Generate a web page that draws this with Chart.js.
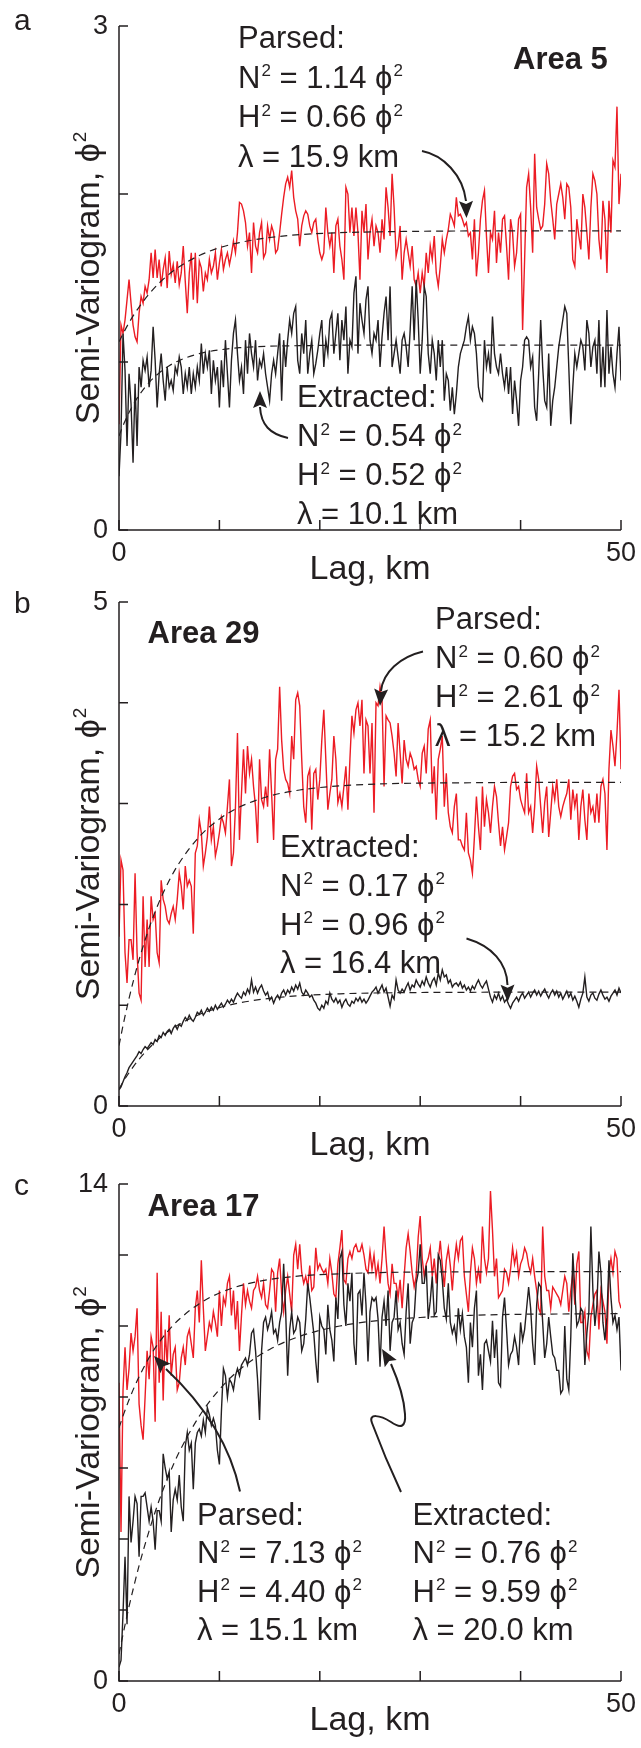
<!DOCTYPE html>
<html><head><meta charset="utf-8">
<script src="https://cdn.jsdelivr.net/npm/chart.js@4.4.1/dist/chart.umd.min.js"></script>
<style>
html,body{margin:0;padding:0;background:#fff;}
#wrap{position:relative;width:641px;height:1748px;overflow:hidden;background:#fff;}
canvas{position:absolute;left:0;}
</style></head><body>
<div id="wrap">
<canvas id="ca" width="641" height="600" style="top:0;width:641px;height:600px"></canvas>
<canvas id="cb" width="641" height="600" style="top:575px;width:641px;height:600px"></canvas>
<canvas id="cc" width="641" height="598" style="top:1150px;width:641px;height:598px"></canvas>
</div>
<script>
// ---- data (lag spacing 0.2 km, 0 … 50 km) ----
const LAG_STEP = 0.2;
const xTicks = [0,10,20,30,40,50];
const yTicksA = [0,1,2,3];
const yTicksB = [0,1,2,3,4,5];
const yTicksC = [0,2,4,6,8,10,12,14];

const parsedA = [
0.63,1.22,1.17,1.25,1.37,1.49,1.35,1.22,1.15,1.12,
1.29,1.39,1.35,1.45,1.41,1.49,1.65,1.50,1.67,1.50,
1.61,1.45,1.55,1.62,1.44,1.66,1.52,1.58,1.47,1.60,
1.46,1.53,1.69,1.48,1.29,1.53,1.65,1.37,1.65,1.35,
1.60,1.56,1.42,1.53,1.49,1.61,1.53,1.57,1.65,1.49,
1.59,1.67,1.55,1.61,1.65,1.58,1.64,1.72,1.65,1.77,
1.95,1.94,1.90,1.83,1.69,1.77,1.53,1.83,1.69,1.65,
1.77,1.83,1.62,1.65,1.81,1.73,1.81,1.77,1.65,1.67,
1.77,1.88,1.98,
2.06,2.10,2.04,2.14,1.98,1.90,1.85,1.69,1.81,1.87,
1.90,1.88,1.81,1.77,1.83,1.85,1.73,1.65,1.61,1.65,
1.92,1.77,1.69,1.77,1.53,1.81,1.85,1.69,1.61,1.49,
2.04,2.00,1.77,1.92,1.75,1.92,1.77,1.49,1.90,1.77,
1.94,1.61,1.77,1.85,1.69,1.81,1.77,1.65,1.85,1.73,
2.04,1.92,1.75,2.12,1.92,1.63,1.69,1.81,1.49,1.65,
1.73,1.65,1.57,1.69,1.49,1.45,1.53,1.41,1.53,1.45,
1.65,1.53,1.69,1.61,1.75,1.53,1.45,1.57,1.73,1.65,
1.73,1.79,1.88,1.85,1.81,
1.98,1.87,1.88,1.85,1.81,1.83,1.75,1.77,1.61,1.85,
1.51,1.65,1.85,1.96,2.02,1.75,1.53,1.77,1.73,1.90,
1.59,1.77,1.65,1.85,1.87,1.69,1.49,1.85,1.77,1.57,
1.65,1.85,1.88,1.19,1.61,2.04,2.12,1.92,1.65,2.24,
1.92,1.85,1.79,1.81,1.94,2.18,2.12,1.96,1.85,1.73,
1.94,2.00,2.06,1.98,1.85,2.06,2.04,1.92,1.61,1.57,
1.85,1.75,1.67,2.00,1.92,1.77,1.61,1.92,2.12,2.08,
2.00,1.73,1.61,1.96,1.85,1.53,1.96,1.77,2.20,2.16,
2.52,1.94,2.12];

const extractedA = [
0.32,0.58,1.17,0.95,0.50,0.93,0.75,0.40,0.87,0.50,
0.97,0.85,1.01,0.95,1.03,0.85,0.95,1.21,1.01,0.73,
0.93,1.05,0.89,0.77,0.97,0.85,0.89,0.83,0.97,0.93,
1.03,0.97,0.81,0.93,0.85,0.97,0.81,0.93,0.85,0.97,
0.89,1.11,0.93,1.05,0.97,1.07,0.81,1.01,0.89,0.97,
0.73,1.01,0.85,1.13,0.93,0.73,1.01,1.17,1.25,1.05,
0.89,0.97,0.81,1.13,0.93,1.17,1.05,0.97,1.13,0.89,
1.01,0.97,1.05,0.93,0.85,0.77,0.93,1.01,0.93,1.05,
1.17,0.77,1.13,
0.97,1.13,1.25,1.17,1.29,1.33,1.01,0.93,1.17,1.05,
1.25,0.93,1.05,1.13,0.93,0.99,1.07,1.17,1.25,0.97,
1.13,1.05,1.25,1.29,1.05,1.17,1.29,1.01,1.25,1.13,
1.33,0.93,1.13,1.09,1.41,1.51,1.05,1.35,1.25,1.17,
1.37,1.45,1.13,1.05,1.17,1.13,1.25,0.97,1.15,1.29,
1.39,1.13,1.45,0.97,1.05,1.13,1.03,0.93,1.13,1.17,
1.09,0.97,1.19,1.45,1.13,1.49,1.25,0.93,1.13,1.45,
1.39,1.05,0.93,1.13,1.05,0.89,1.13,0.97,1.13,0.77,
0.93,0.89,0.71,0.85,0.69,
0.81,0.97,1.05,1.09,1.13,1.21,1.27,1.13,1.21,1.17,
1.05,0.85,0.79,0.77,1.13,0.97,1.05,0.93,1.27,1.05,
0.97,0.93,1.05,0.93,0.85,0.97,0.81,0.97,0.69,0.89,
0.77,0.62,0.89,0.97,1.13,1.15,1.13,0.97,1.03,0.73,
0.65,0.93,1.25,0.97,0.77,0.73,1.05,0.62,0.77,0.85,
0.97,1.09,1.17,1.25,1.33,1.29,0.97,0.63,0.85,1.05,
0.97,1.05,1.13,1.09,0.95,1.25,1.17,0.97,1.09,1.13,
0.93,1.25,0.85,1.09,0.85,1.31,0.93,1.09,0.93,0.85,
1.05,1.21,0.89];

const parsedB = [
1.68,2.44,2.34,1.52,1.22,1.65,1.65,1.45,2.31,1.52,
1.12,1.05,2.08,1.38,1.85,1.38,2.08,1.85,1.91,1.52,
1.42,2.24,2.05,1.98,1.85,1.81,1.91,1.98,1.85,2.05,
2.31,2.18,1.95,2.38,2.18,2.24,2.18,1.71,2.51,2.58,
2.84,2.71,2.38,2.51,2.67,2.97,2.64,2.77,2.48,2.58,
2.71,2.87,2.81,2.71,2.97,3.24,2.38,2.51,2.97,3.70,
2.64,3.10,3.54,3.10,3.57,3.30,3.44,3.17,2.97,2.61,
3.44,3.04,2.97,3.17,2.97,3.54,3.10,2.64,3.44,3.54,
4.16,3.63,3.34,
3.24,3.20,3.10,3.67,3.44,4.03,4.10,3.97,3.44,2.97,
2.81,3.27,3.34,2.74,3.30,3.34,3.04,3.24,3.63,3.93,
3.44,2.94,3.10,3.24,3.67,3.44,3.01,3.10,2.97,3.17,
3.37,2.94,3.44,3.87,3.70,3.93,4.00,3.77,4.03,3.30,
3.83,3.77,3.30,3.80,2.91,4.00,3.97,4.16,4.03,3.17,
3.87,3.83,3.80,3.67,3.50,3.27,3.80,3.50,3.20,3.63,
3.44,3.37,3.50,3.44,3.34,3.37,3.24,3.17,3.50,3.57,
3.30,3.74,3.83,3.10,3.37,2.84,3.44,3.54,3.67,2.97,
3.30,2.91,2.77,2.71,2.97,
3.10,2.64,2.64,2.58,2.54,2.91,2.51,2.44,2.31,2.67,
3.07,2.77,2.54,3.17,2.77,3.04,2.91,2.71,2.97,3.17,
3.07,2.81,2.58,2.77,2.54,2.67,2.81,3.17,3.27,3.30,
3.14,3.17,3.04,2.97,2.91,3.30,2.91,2.97,2.71,2.97,
3.37,3.24,2.97,2.71,3.01,3.17,2.67,2.91,3.17,3.04,
3.24,2.97,2.87,2.97,3.04,3.10,3.24,2.84,3.14,2.97,
3.10,2.64,2.97,3.14,2.84,2.64,3.10,2.91,2.97,2.81,
3.10,2.81,3.17,3.24,3.10,2.54,3.34,3.73,3.57,3.37,
3.70,4.13,3.34];

const extractedB = [
0.16,0.19,0.24,0.29,0.33,0.38,0.41,0.44,0.47,0.50,
0.54,0.52,0.56,0.59,0.57,0.60,0.63,0.61,0.66,0.64,
0.70,0.68,0.73,0.70,0.74,0.76,0.72,0.77,0.80,0.76,
0.81,0.79,0.84,0.88,0.85,0.90,0.86,0.84,0.88,0.93,
0.91,0.95,0.90,0.93,0.97,0.94,0.98,0.95,1.00,0.96,
0.99,1.02,0.98,1.01,1.05,1.02,1.06,1.03,1.08,1.12,
1.09,1.07,1.13,1.10,1.16,1.12,1.25,1.13,1.18,1.12,
1.17,1.20,1.14,1.10,1.13,1.05,1.08,1.02,1.07,1.10,
1.06,1.12,1.15,
1.10,1.15,1.12,1.18,1.14,1.20,1.16,1.22,1.13,1.10,
1.15,1.12,1.08,1.10,1.05,1.02,0.97,0.95,1.00,0.97,
1.04,1.01,1.12,1.06,1.03,1.07,1.02,1.05,0.98,1.03,
1.06,1.01,0.99,1.04,1.02,1.07,1.04,1.08,1.03,1.06,
1.02,1.05,1.09,1.13,1.15,1.18,1.12,1.16,1.20,1.13,
1.17,1.08,0.99,1.10,1.06,1.25,1.15,1.12,1.16,1.13,
1.18,1.22,1.15,1.20,1.18,1.25,1.21,1.18,1.24,1.20,
1.28,1.22,1.18,1.24,1.27,1.20,1.32,1.25,1.35,1.28,
1.30,1.22,1.25,1.18,1.21,
1.22,1.19,1.23,1.17,1.20,1.15,1.18,1.14,1.19,1.16,
1.21,1.25,1.20,1.17,1.21,1.24,1.16,1.08,1.03,1.10,
1.06,1.12,1.05,1.09,1.03,1.06,1.01,0.97,1.02,1.05,
1.08,1.04,1.09,1.12,1.07,1.10,1.13,1.08,1.12,1.15,
1.10,1.14,1.09,1.13,1.16,1.11,1.07,1.12,1.15,1.10,
1.14,1.08,1.12,1.06,1.10,1.14,1.08,1.12,1.05,1.09,
1.04,0.98,1.06,1.12,1.28,1.08,1.04,1.10,1.12,1.07,
1.05,1.11,1.15,1.10,1.06,1.08,1.04,1.09,1.12,1.15,
1.10,1.17,1.12];

const parsedC = [
8.4,4.2,8.2,9.4,8.2,8.8,9.8,9.3,9.7,10.5,
7.8,7.2,6.8,8.0,9.3,8.5,9.7,9.4,7.3,11.5,
8.4,10.4,7.9,9.9,8.9,10.3,8.6,9.2,9.4,8.2,
8.4,9.1,9.4,8.9,9.7,9.9,9.5,9.1,10.5,11.0,
10.1,11.85,10.5,9.3,9.7,10.1,9.9,10.4,10.1,9.7,
11.0,10.0,10.8,10.6,11.2,11.4,10.3,11.0,9.9,10.7,
9.3,10.3,11.2,10.6,11.0,10.7,10.5,11.0,11.1,11.4,
11.0,10.8,11.2,10.6,10.5,11.0,11.6,11.5,10.4,11.5,
11.9,10.9,10.4,
11.0,11.4,10.9,10.4,12.0,12.3,11.6,12.3,11.5,11.2,
11.4,11.1,11.7,11.0,11.1,12.2,11.6,11.75,11.6,11.5,
11.6,11.2,11.9,11.5,10.9,10.8,11.75,12.2,12.7,11.3,
11.2,11.9,12.1,11.9,12.2,12.3,12.1,12.1,12.3,12.0,
11.6,11.5,12.1,11.6,12.0,11.4,11.75,11.2,11.9,12.8,
11.9,11.2,10.9,11.75,11.2,11.2,10.8,11.3,10.5,11.4,
12.2,12.6,12.1,11.5,11.1,11.4,12.5,13.1,11.9,11.4,
11.75,11.9,12.2,11.4,11.9,11.2,11.85,12.4,11.7,11.1,
11.85,12.2,11.7,11.0,11.8,
12.3,11.9,12.4,12.5,11.4,10.9,10.4,11.5,12.2,11.9,
11.2,11.6,11.2,12.8,11.9,11.5,11.9,13.8,12.7,11.4,
11.9,10.8,10.9,11.0,11.6,11.5,11.2,11.6,12.2,11.75,
12.05,11.4,11.75,11.9,12.2,12.05,11.7,11.5,11.9,11.4,
11.0,10.5,10.35,12.8,11.4,11.0,11.0,10.5,11.1,11.0,
10.9,10.8,10.6,11.0,11.4,11.2,10.4,11.0,11.5,10.6,
11.75,12.1,10.1,10.1,10.4,9.3,9.1,10.25,10.6,10.9,
11.0,9.9,11.0,10.7,10.4,9.5,11.5,11.9,11.5,12.1,
11.9,10.7,10.5];

const extractedC = [
0.39,0.58,1.9,3.5,1.6,5.2,3.9,4.5,5.2,5.0,
3.5,5.2,5.2,5.3,4.9,4.5,4.9,4.5,3.7,4.8,
4.8,4.5,6.4,6.0,5.7,5.9,4.2,5.1,5.4,5.1,
5.8,4.9,4.5,6.6,7.0,6.5,6.7,5.4,6.7,7.0,
7.1,6.9,7.35,7.0,7.7,7.5,7.2,7.4,7.2,6.5,
6.1,7.6,8.8,8.6,8.0,8.5,8.4,8.2,8.6,8.8,
8.6,8.9,9.0,9.1,8.9,9.2,9.8,9.9,9.3,8.5,
7.35,9.3,10.1,10.25,9.9,10.1,10.4,9.8,9.9,9.6,
10.1,10.4,11.75,
10.4,8.6,9.9,10.4,9.8,9.9,10.25,10.1,9.3,9.5,
10.2,11.2,10.8,10.3,9.8,9.0,8.4,10.25,10.0,9.9,
9.2,10.6,9.9,9.6,9.0,10.8,10.2,11.9,12.1,10.6,
10.0,11.2,10.7,11.5,9.5,8.9,10.9,11.0,10.3,11.5,
10.6,9.0,10.4,10.8,10.7,10.8,10.2,8.85,10.25,10.7,
10.0,11.0,9.3,10.1,10.25,11.0,9.9,10.1,9.5,9.2,
10.4,11.2,9.5,10.1,10.25,11.2,11.5,12.3,11.2,11.2,
11.7,10.2,10.7,11.4,10.3,10.4,12.0,11.85,11.3,10.5,
10.2,11.2,10.1,9.8,10.0,
9.6,10.5,9.9,10.35,9.7,9.4,8.4,10.1,9.4,10.5,
11.0,8.6,9.2,8.2,9.5,9.6,9.3,9.0,10.15,9.1,
9.9,8.4,8.3,10.25,10.8,9.9,8.9,9.2,9.3,9.7,
9.4,8.9,10.1,9.6,9.9,10.5,11.1,10.5,9.5,8.9,
10.6,11.2,11.1,10.1,9.1,9.5,10.25,9.7,9.2,9.1,
8.75,8.75,8.1,8.2,10.0,8.5,8.2,9.7,12.05,11.0,
10.0,10.15,10.5,10.4,8.9,9.8,10.4,12.8,11.0,10.0,
10.6,12.1,11.5,10.1,9.6,10.25,11.85,10.8,10.1,10.3,
9.9,10.25,8.75];

// fitted model curves (dashed), read at these lags
const fitLag = [0,0.5,1,1.5,2,3,4,5,6,8,10,12,15,18,22,26,30,35,40,45,50];
const fitParsedA    = [1.12,1.179,1.234,1.283,1.327,1.405,1.470,1.523,1.567,1.634,1.680,1.711,1.741,1.758,1.770,1.775,1.778,1.78,1.78,1.78,1.78];
const fitExtractedA = [0.56,0.635,0.699,0.754,0.802,0.879,0.935,0.978,1.009,1.050,1.072,1.085,1.094,1.097,1.10,1.10,1.10,1.10,1.10,1.10,1.10];
const fitParsedB    = [0.60,0.845,1.067,1.268,1.451,1.767,2.025,2.237,2.411,2.672,2.847,2.966,3.075,3.135,3.176,3.195,3.203,3.207,3.21,3.21,3.21];
const fitExtractedB = [0.17,0.254,0.330,0.400,0.464,0.575,0.668,0.745,0.810,0.908,0.976,1.023,1.068,1.094,1.113,1.122,1.126,1.128,1.13,1.13,1.13];
const fitParsedC    = [7.13,7.546,7.92,8.264,8.57,9.11,9.54,9.90,10.19,10.63,10.93,11.13,11.31,11.41,11.47,11.505,11.52,11.525,11.53,11.53,11.53];
const fitExtractedC = [0.76,1.45,2.10,2.69,3.25,4.23,5.09,5.82,6.45,7.46,8.21,8.77,9.34,9.71,10.00,10.16,10.24,10.30,10.33,10.34,10.35];

// ---- drawing ----
const RED = '#ec1c24';
const INK = '#231f20';
const FONT = '"Liberation Sans", Arial, Helvetica, sans-serif';
const ANN = 31;
const SUP2 = {s:'2'};

function series(vals){ return vals.map((v,i)=>({x: +(i*LAG_STEP).toFixed(2), y: v})); }
function pairs(xs, ys){ return xs.map((x,i)=>({x:x, y:ys[i]})); }

function drawRich(c, parts, x, y, size, weight){
  let cx = x;
  const w = weight || 'normal';
  for (const p of parts){
    if (typeof p === 'string'){
      c.font = `${w} ${size}px ${FONT}`;
      c.fillText(p, cx, y);
      cx += c.measureText(p).width;
    } else {
      const ss = Math.round(size*0.56);
      c.font = `${w} ${ss}px ${FONT}`;
      c.fillText(p.s, cx + 1, y - size*0.37);
      cx += c.measureText(p.s).width + 1;
    }
  }
  return cx - x;
}
function richWidth(c, parts, size){
  let w = 0;
  for (const p of parts){
    if (typeof p === 'string'){ c.font = `${size}px ${FONT}`; w += c.measureText(p).width; }
    else { c.font = `${Math.round(size*0.56)}px ${FONT}`; w += c.measureText(p.s).width + 1; }
  }
  return w;
}
function head(c, tx, ty, fx, fy){
  const len = 17, hw = 7;
  const dx = tx-fx, dy = ty-fy, L = Math.hypot(dx,dy), ux = dx/L, uy = dy/L;
  const bx = tx-ux*len, by = ty-uy*len;
  c.beginPath();
  c.moveTo(tx,ty);
  c.lineTo(bx - uy*hw, by + ux*hw);
  c.lineTo(bx + ux*3, by + uy*3);
  c.lineTo(bx + uy*hw, by - ux*hw);
  c.closePath(); c.fill();
}
function drawPath(c, cmds, off){
  c.beginPath();
  for (const k of cmds){
    const t = k[0], a = k.slice(1).map((v,i)=> i%2 ? v-off : v);
    if (t==='M') c.moveTo(a[0],a[1]);
    else if (t==='L') c.lineTo(a[0],a[1]);
    else if (t==='Q') c.quadraticCurveTo(a[0],a[1],a[2],a[3]);
    else if (t==='C') c.bezierCurveTo(a[0],a[1],a[2],a[3],a[4],a[5]);
  }
  c.stroke();
}

function decor(p){
  return {
    id: 'decor_' + p.letter,
    afterDraw(chart){
      const c = chart.ctx, xs = chart.scales.x, ys = chart.scales.y, off = p.top;
      c.save();
      c.strokeStyle = INK; c.fillStyle = INK; c.lineCap = 'butt';
      const x0 = xs.getPixelForValue(0), x1 = xs.getPixelForValue(50);
      const y0 = ys.getPixelForValue(0), yT = ys.getPixelForValue(p.yTicks[p.yTicks.length-1]);
      // axes
      c.lineWidth = 1.5;
      c.beginPath(); c.moveTo(x0, yT); c.lineTo(x0, y0); c.lineTo(x1, y0); c.stroke();
      c.beginPath();
      for (const v of p.yTicks){ const y = ys.getPixelForValue(v); c.moveTo(x0, y); c.lineTo(x0+9, y); }
      for (const v of xTicks){ const x = xs.getPixelForValue(v); c.moveTo(x, y0); c.lineTo(x, y0-10); }
      c.stroke();
      // tick labels (first and last only)
      c.font = `27px ${FONT}`;
      c.textAlign = 'right'; c.textBaseline = 'middle';
      const ylab = [p.yTicks[0], p.yTicks[p.yTicks.length-1]];
      for (const v of ylab) c.fillText(String(v), 108, ys.getPixelForValue(v)+1);
      c.textAlign = 'center'; c.textBaseline = 'alphabetic';
      for (const v of [xTicks[0], xTicks[xTicks.length-1]]) c.fillText(String(v), xs.getPixelForValue(v), y0+31);
      // axis titles
      c.font = `34px ${FONT}`;
      c.fillText('Lag, km', (x0+x1)/2, y0+49);
      const yt = ['Semi-Variogram, ', '\u03D5', SUP2];
      const tw = richWidth(c, yt, 34);
      c.save();
      c.translate(99, (yT+y0)/2);
      c.rotate(-Math.PI/2);
      c.textAlign = 'left';
      drawRich(c, yt, -tw/2, 0, 34);
      c.restore();
      // panel letter
      c.textAlign = 'left';
      c.font = `30px ${FONT}`;
      c.fillText(p.letter, 14, p.letterY - off);
      // area label
      c.font = `bold 31px ${FONT}`;
      c.fillText(p.area.text, p.area.x, p.area.y - off);
      // annotation blocks
      for (const b of p.blocks){
        b.lines.forEach((ln, i)=> drawRich(c, ln, b.x, b.y - off + i*b.dy, ANN));
      }
      // arrows
      c.lineWidth = 2;
      for (const a of p.arrows){
        drawPath(c, a.path, off);
        head(c, a.tip[0], a.tip[1]-off, a.from[0], a.from[1]-off);
      }
      c.restore();
    }
  };
}

function makeChart(p){
  const el = document.getElementById(p.canvas);
  const H = el.height;
  new Chart(el, {
    type: 'line',
    data: { datasets: [
      {data: pairs(fitLag, p.fitRed), order:0, borderColor:INK, borderWidth:1.2, borderDash:[7,5], pointRadius:0, cubicInterpolationMode:'monotone', fill:false},
      {data: pairs(fitLag, p.fitBlack), order:0, borderColor:INK, borderWidth:1.2, borderDash:[7,5], pointRadius:0, cubicInterpolationMode:'monotone', fill:false},
      {data: series(p.black), order:1, borderColor:INK, borderWidth:1.4, pointRadius:0, tension:0, fill:false},
      {data: series(p.red), order:2, borderColor:RED, borderWidth:1.4, pointRadius:0, tension:0, fill:false}
    ]},
    options: {
      responsive:false, animation:false, devicePixelRatio:1, events:[],
      layout: {padding: {left:119, right:20, top:p.areaTop, bottom:H - p.areaBottom}},
      scales: {
        x: {type:'linear', min:0, max:50, display:false},
        y: {type:'linear', min:0, max:p.yTicks[p.yTicks.length-1], display:false}
      },
      plugins: {legend:{display:false}, tooltip:{enabled:false}}
    },
    plugins: [decor(p)]
  });
}

const panels = [
  { canvas:'ca', top:0, areaTop:26, areaBottom:530, yTicks:yTicksA, letter:'a', letterY:30,
    red:parsedA, black:extractedA, fitRed:fitParsedA, fitBlack:fitExtractedA,
    area:{text:'Area 5', x:513, y:69},
    blocks:[
      {x:238, y:48, dy:39.5, lines:[['Parsed:'], ['N',SUP2,' = 1.14 ','\u03D5',SUP2], ['H',SUP2,' = 0.66 ','\u03D5',SUP2], ['\u03BB = 15.9 km']]},
      {x:297, y:407, dy:39, lines:[['Extracted:'], ['N',SUP2,' = 0.54 ','\u03D5',SUP2], ['H',SUP2,' = 0.52 ','\u03D5',SUP2], ['\u03BB = 10.1 km']]}
    ],
    arrows:[
      {path:[['M',422,151],['C',443,155,463,175,466,201]], tip:[466.5,218], from:[466,201]},
      {path:[['M',288,438],['C',270,434,261,425,260,407]], tip:[260,391], from:[260,407]}
    ]},
  { canvas:'cb', top:575, areaTop:27, areaBottom:531, yTicks:yTicksB, letter:'b', letterY:613,
    red:parsedB, black:extractedB, fitRed:fitParsedB, fitBlack:fitExtractedB,
    area:{text:'Area 29', x:147.5, y:643},
    blocks:[
      {x:435, y:629, dy:39, lines:[['Parsed:'], ['N',SUP2,' = 0.60 ','\u03D5',SUP2], ['H',SUP2,' = 2.61 ','\u03D5',SUP2], ['\u03BB = 15.2 km']]},
      {x:280, y:857, dy:38.8, lines:[['Extracted:'], ['N',SUP2,' = 0.17 ','\u03D5',SUP2], ['H',SUP2,' = 0.96 ','\u03D5',SUP2], ['\u03BB = 16.4 km']]}
    ],
    arrows:[
      {path:[['M',423,651.5],['C',400,657,383,672,381,691]], tip:[380,706], from:[381,691]},
      {path:[['M',466.5,938.5],['C',492,946,507,963,507.5,985]], tip:[507.7,1001.7], from:[507.5,985]}
    ]},
  { canvas:'cc', top:1150, areaTop:34, areaBottom:531, yTicks:yTicksC, letter:'c', letterY:1195,
    red:parsedC, black:extractedC, fitRed:fitParsedC, fitBlack:fitExtractedC,
    area:{text:'Area 17', x:147.5, y:1216},
    blocks:[
      {x:197, y:1524.5, dy:38.5, lines:[['Parsed:'], ['N',SUP2,' = 7.13 ','\u03D5',SUP2], ['H',SUP2,' = 4.40 ','\u03D5',SUP2], ['\u03BB = 15.1 km']]},
      {x:412.5, y:1524.5, dy:38.5, lines:[['Extracted:'], ['N',SUP2,' = 0.76 ','\u03D5',SUP2], ['H',SUP2,' = 9.59 ','\u03D5',SUP2], ['\u03BB = 20.0 km']]}
    ],
    arrows:[
      {path:[['M',240,1491.5],['Q',226,1425,166,1369]], tip:[154,1356], from:[166,1369]},
      {path:[['M',401,1492],['Q',385,1458,372,1423],['C',368,1413,380,1415,391,1422],['C',401,1429,406,1427,405,1414],['C',404,1398,398,1380,391,1364]], tip:[382,1349], from:[391,1364]}
    ]}
];

panels.forEach(makeChart);
</script>
</body></html>
